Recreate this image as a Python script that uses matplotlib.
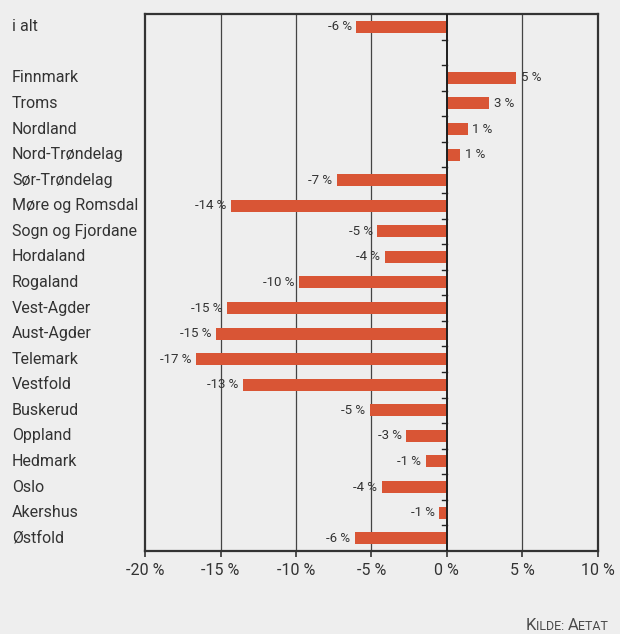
import matplotlib
matplotlib.use('Agg')
import matplotlib.pyplot as plt
import matplotlib.transforms as mtransforms
from matplotlib.offsetbox import TextArea, HPacker, AnchoredOffsetbox
from matplotlib.ticker import FuncFormatter

# data, top to bottom (None marks the empty row under "i alt")
regions = ['i alt', None, 'Finnmark', 'Troms', 'Nordland', 'Nord-Trøndelag', 'Sør-Trøndelag',
           'Møre og Romsdal', 'Sogn og Fjordane', 'Hordaland', 'Rogaland', 'Vest-Agder',
           'Aust-Agder', 'Telemark', 'Vestfold', 'Buskerud', 'Oppland', 'Hedmark', 'Oslo',
           'Akershus', 'Østfold']
changes = [-6.0, None, 4.6, 2.8, 1.4, 0.9, -7.3, -14.3, -4.6, -4.1, -9.8, -14.6, -15.3,
           -16.6, -13.5, -5.1, -2.7, -1.4, -4.3, -0.5, -6.1]
labels = ['-6 %', None, '5 %', '3 %', '1 %', '1 %', '-7 %', '-14 %', '-5 %', '-4 %', '-10 %',
          '-15 %', '-15 %', '-17 %', '-13 %', '-5 %', '-3 %', '-1 %', '-4 %', '-1 %', '-6 %']
xticks = [-20, -15, -10, -5, 0, 5, 10]

bg = '#eeeeee'
bar_color = '#d95535'
text_color = '#333333'
plt.rcParams['font.family'] = ['Roboto', 'DejaVu Sans']

fig = plt.figure(figsize=(6.2, 6.34), dpi=100, facecolor=bg)
ax = fig.add_axes([0.234, 0.131, 0.730, 0.847], facecolor=bg)
n = len(regions)
ax.set_xlim(-20, 10)
ax.set_ylim(-0.5, n - 0.5)

name_trans = mtransforms.blended_transform_factory(fig.transFigure, ax.transData)
for i, (name, val, lab) in enumerate(zip(regions, changes, labels)):
    if name is None:
        continue
    y = n - 1 - i
    ax.barh(y, val, height=0.47, color=bar_color, zorder=3)
    if val < 0:
        ax.text(val - 0.3, y, lab, ha='right', va='center', fontsize=9.5, color=text_color, zorder=5)
    else:
        ax.text(val + 0.3, y, lab, ha='left', va='center', fontsize=9.5, color=text_color, zorder=5)
    ax.text(12 / 620, y, name, transform=name_trans, ha='left', va='center',
            fontsize=11.5, color=text_color, clip_on=False)

for v in [-15, -10, -5, 5]:
    ax.axvline(v, color='#444444', lw=0.9, zorder=1)
ax.axvline(0, color='#1e1e1e', lw=1.4, zorder=4)
# small ticks on the zero line between rows, pointing left
for k in range(n - 1):
    ax.plot([-0.3, 0], [k + 0.5, k + 0.5], color='#222222', lw=1.0, zorder=4)

ax.set_xticks(xticks)
ax.xaxis.set_major_formatter(FuncFormatter(lambda v, p: f'{int(v)} %'))
ax.tick_params(axis='x', length=4, width=1.2, color='#333333', labelsize=11.5,
               labelcolor=text_color, pad=5)
ax.set_yticks([])
for s in ax.spines.values():
    s.set_color('#333333')
    s.set_linewidth(1.6)

# source note in small caps
src_color = '#4a4a4a'
parts = [TextArea('K', textprops=dict(fontsize=12, color=src_color)),
         TextArea('ILDE: ', textprops=dict(fontsize=9, color=src_color)),
         TextArea('A', textprops=dict(fontsize=12, color=src_color)),
         TextArea('ETAT', textprops=dict(fontsize=9, color=src_color))]
box = HPacker(children=parts, align='baseline', pad=0, sep=0)
anchored = AnchoredOffsetbox(loc='lower right', child=box, frameon=False,
                             bbox_to_anchor=(608 / 620, 1 / 634), bbox_transform=fig.transFigure,
                             borderpad=0, pad=0)
fig.add_artist(anchored)

fig.savefig('out.png', dpi=100, facecolor=bg)
